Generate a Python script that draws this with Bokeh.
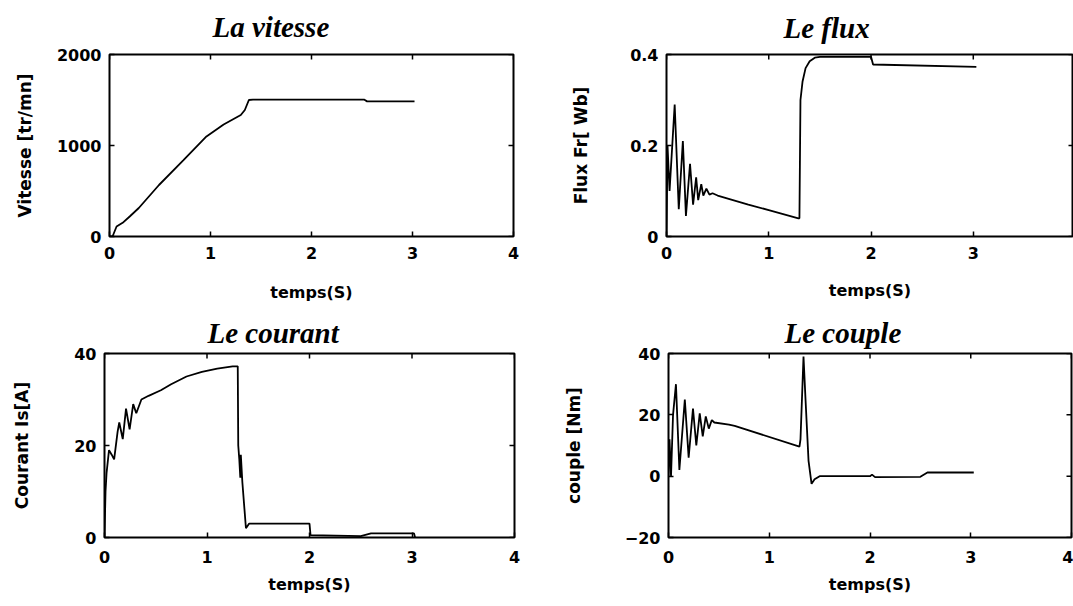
import math
from bokeh.plotting import figure
from bokeh.layouts import column, row
from bokeh.models import FixedTicker, Title, Range1d
from bokeh.embed import file_html
from bokeh.resources import INLINE

# ---------------- data ----------------
x_ticks = [0, 1, 2, 3, 4]

# La vitesse
t_vit = [0.0, 0.03, 0.07, 0.13, 0.2, 0.29, 0.49, 0.73, 0.96, 1.13, 1.30, 1.34, 1.38, 1.42, 2.52, 2.55, 3.02]
v_vit = [0, 0, 110, 150, 220, 313, 566, 836, 1100, 1230, 1335, 1390, 1500, 1505, 1505, 1485, 1485]
vit_ticks = [0, 1000, 2000]

# Le flux
t_flux = [0.0, 0.01, 0.03, 0.08, 0.12, 0.16, 0.19, 0.23, 0.26, 0.29, 0.31, 0.34, 0.36, 0.39, 0.42,
          0.45, 0.5, 0.8, 1.0, 1.29, 1.3, 1.31, 1.33, 1.36, 1.4, 1.45, 1.5, 2.0, 2.02, 3.03]
f_flux = [0.0, 0.2, 0.1, 0.29, 0.06, 0.21, 0.045, 0.16, 0.07, 0.13, 0.08, 0.115, 0.09, 0.105, 0.092,
          0.095, 0.09, 0.07, 0.058, 0.04, 0.04, 0.30, 0.34, 0.37, 0.385, 0.393, 0.395, 0.395, 0.378, 0.373]
flux_ticks = [0, 0.2, 0.4]

# Le courant
t_cour = [0.0, 0.01, 0.02, 0.044, 0.07, 0.094, 0.128, 0.144, 0.178, 0.21, 0.245, 0.28, 0.31, 0.36,
          0.43, 0.55, 0.65, 0.8, 0.95, 1.1, 1.25, 1.3, 1.305, 1.315, 1.325, 1.33, 1.345, 1.38,
          1.41, 2.0, 2.01, 2.5, 2.6, 3.02, 3.03]
i_cour = [0, 10, 14, 19, 18, 17, 23, 25, 21.4, 28, 23.5, 29, 27, 30, 30.8, 32, 33.3, 35, 36, 36.7,
          37.2, 37.2, 20, 17, 13, 18, 12, 2, 3, 3, 0.5, 0.3, 0.9, 0.9, 0]
cour_ticks = [0, 20, 40]

# Le couple
t_coup = [0.0, 0.01, 0.025, 0.045, 0.074, 0.108, 0.162, 0.2, 0.243, 0.276, 0.31, 0.34, 0.37, 0.4,
          0.43, 0.455, 0.6, 0.657, 1.3, 1.31, 1.33, 1.34, 1.36, 1.39, 1.42, 1.45, 1.5, 2.0, 2.02,
          2.05, 2.5, 2.57, 3.03]
c_coup = [0, 12, 0, 20, 30, 2, 25, 6, 22, 10, 20.5, 13, 19.5, 15.5, 18.3, 17.5, 16.8, 16.4, 9.6, 12,
          30, 39, 25, 5, -2.5, -1, 0, 0, 0.5, -0.3, -0.2, 1.2, 1.2]
coup_ticks = [-20, 0, 20, 40]

TICK_FONT = "DejaVu Sans"
TITLE_FONT = "Liberation Serif"


def panel(w, h, x_end, y_range, yticks, ylabel, title, t, y, b_left, b_right, b_top, b_bottom,
          title_offset, title_standoff, ylabel_standoff, xtick_standoff, xlabel_standoff,
          overrides=None):
    p = figure(width=w, height=h, output_backend="svg", toolbar_location=None,
               x_range=Range1d(0, x_end), y_range=Range1d(*y_range),
               min_border_left=b_left, min_border_right=b_right,
               min_border_top=b_top, min_border_bottom=b_bottom)
    p.grid.visible = False
    p.outline_line_color = "black"
    p.outline_line_width = 2
    p.background_fill_color = "white"
    p.border_fill_color = "white"

    p.line(t, y, line_color="black", line_width=1.8)

    for ax in (p.xaxis[0], p.yaxis[0]):
        ax.major_tick_in = 5
        ax.major_tick_out = 0
        ax.minor_tick_line_color = None
        ax.axis_line_color = None
        ax.major_tick_line_color = "black"
        ax.major_tick_line_width = 1.5
        ax.major_label_text_font = TICK_FONT
        ax.major_label_text_font_style = "bold"
        ax.major_label_text_font_size = "16px"
        ax.major_label_text_color = "black"
        ax.axis_label_text_font = TICK_FONT
        ax.axis_label_text_font_style = "bold"
        ax.axis_label_text_color = "black"
    p.xaxis[0].ticker = FixedTicker(ticks=x_ticks)
    p.yaxis[0].ticker = FixedTicker(ticks=yticks)
    if overrides:
        p.yaxis[0].major_label_overrides = overrides
    p.xaxis[0].major_label_standoff = xtick_standoff
    p.yaxis[0].major_label_standoff = 8
    p.xaxis[0].axis_label = "temps(S)"
    p.xaxis[0].axis_label_text_font_size = "16px"
    p.xaxis[0].axis_label_standoff = xlabel_standoff
    p.yaxis[0].axis_label = ylabel
    p.yaxis[0].axis_label_text_font_size = "17px"
    p.yaxis[0].axis_label_standoff = ylabel_standoff

    # inward tick marks on the top and right edges of the frame
    top_ticks = [v for v in x_ticks if v <= x_end]
    p.ray(x=top_ticks, y=[y_range[1]] * len(top_ticks), length=5, length_units="screen",
          angle=-math.pi / 2, line_color="black", line_width=1.5)
    p.ray(x=[x_end] * len(yticks), y=yticks, length=5, length_units="screen",
          angle=math.pi, line_color="black", line_width=1.5)

    p.title = Title(text=title, align="left", offset=title_offset, standoff=title_standoff,
                    vertical_align="top",
                    text_font=TITLE_FONT, text_font_style="bold italic",
                    text_font_size="29px", text_color="black")
    return p


p1 = panel(560, 305, 4, (0, 2000), vit_ticks, "Vitesse [tr/mn]", "La vitesse", t_vit, v_vit,
           109, 47, 52, 69, 103, 19, 19, 10, 21)
p2 = panel(513, 305, 3.98, (0, 0.4), flux_ticks, "Flux Fr[ Wb]", "Le flux", t_flux, f_flux,
           106, 0, 54, 67, 117, 17, 36, 10, 19,
           overrides={0: "0", 0.2: "0.2", 0.4: "0.4"})
p3 = panel(560, 301, 4, (0, 40), cour_ticks, "Courant Is[A]", "Le courant", t_cour, i_cour,
           104, 46, 47, 69, 103, 6, 39, 13, 9)
p4 = panel(513, 301, 4, (-20, 40), coup_ticks, "couple [Nm]", "Le couple", t_coup, c_coup,
           105, 2, 48, 69, 116, 6, 38, 13, 9)

layout = column(row(p1, p2), row(p3, p4))
open("out.html", "w").write(file_html(layout, INLINE))
